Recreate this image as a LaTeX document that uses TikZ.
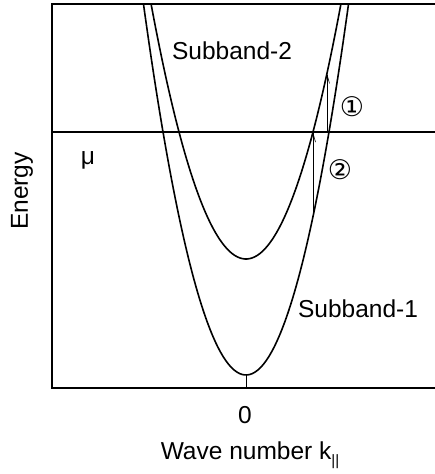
\documentclass[tikz,border=0pt]{standalone}
\usepackage{fontspec}
\setmainfont{Liberation Sans}
\newfontfamily\symfont{DejaVu Sans}
\usetikzlibrary{arrows.meta}

\newcommand*{\kmin}{-194}
\newcommand*{\kmax}{189}
\newcommand*{\emax}{384}
\newcommand*{\efermi}{256}

\begin{document}
\begin{tikzpicture}
[
	x=1pt, y=1pt,
	band/.style={line width=1.6pt},
	frameline/.style={line width=1.6pt},
	transition/.style={line width=0.6pt, -{Straight Barb[length=9pt,width=5pt]}},
	lbl/.style={inner sep=0pt, font=\fontsize{24.5}{28}\selectfont},
	num/.style={inner sep=0pt, font=\symfont\fontsize{27}{28}\selectfont}
]
	\useasboundingbox (-246,-86) rectangle (189,388);

	% frame
	\draw[frameline] (\kmax,\emax) -- (\kmin,\emax) -- (\kmin,0) -- (\kmax,0);
	\draw[frameline] (\kmin,\efermi) -- (\kmax,\efermi);
	\draw[thick] (0,0) -- (0,13);

	% subbands
	\begin{scope}
		\clip (\kmin,0) rectangle (\kmax,\emax);
		\draw[band, domain=-106:106, smooth, samples=80] plot (\x,{13 + 0.0353*\x*\x});
		\draw[band, domain=-98:98, smooth, samples=80] plot (\x,{129 + 0.0283*\x*\x});
	\end{scope}

	% transitions
	\coordinate (lowtwo) at (67,{13 + 0.0353*67*67});
	\coordinate (hightwo) at (67,\efermi);
	\coordinate (lowone) at (81,{\efermi});
	\coordinate (highone) at (81,{129 + 0.0283*81*81});
	\draw[transition] (lowtwo) -- (hightwo);
	\draw[transition] (lowone) -- (highone);

	% labels
	\node[num] (one) at (106,281) {①};
	\node[num] (two) at (94,218) {②};
	\node[lbl, anchor=base] (sub2) at (-14,328) {Subband-2};
	\node[lbl, anchor=base] (sub1) at (112,70) {Subband-1};
	\node[lbl] (mu) at (-158,228) {μ};
	\node[lbl] (zero) at (-1,-27) {0};
	\node[lbl, rotate=90] (energy) at (-224,197) {Energy};
	\node[lbl] (wave) at (4,-67) {Wave number k\raisebox{-0.45ex}{\fontsize{15}{15}\selectfont ||}};

\end{tikzpicture}
\end{document}
